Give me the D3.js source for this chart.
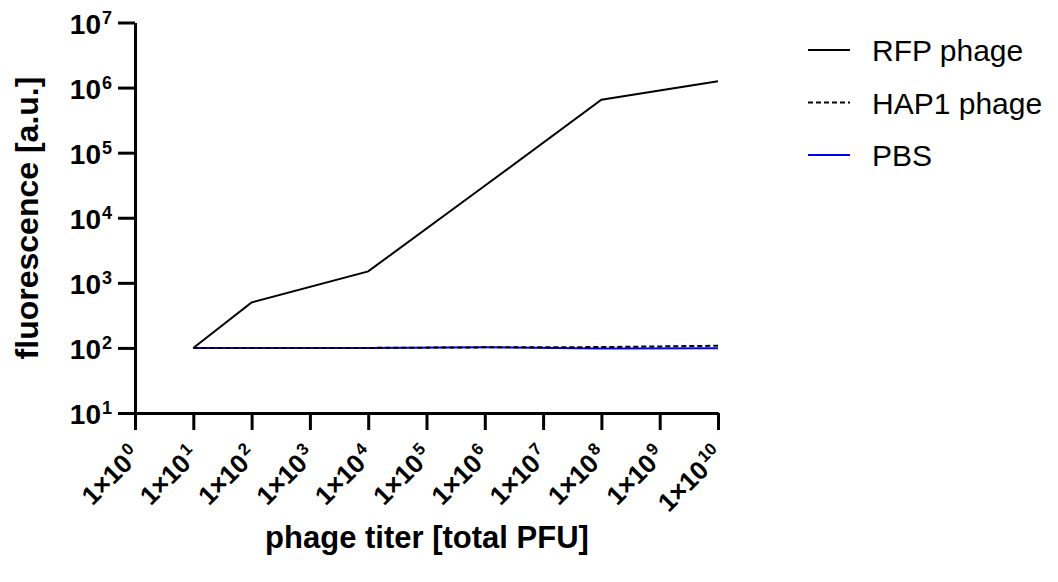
<!DOCTYPE html>
<html><head><meta charset="utf-8">
<script src="https://cdn.jsdelivr.net/npm/d3@7"></script>
<style>
body{margin:0;background:#fff;}
svg{font-family:Arial,"Liberation Sans",sans-serif;}
</style></head>
<body><svg id="c" width="1058" height="582"></svg>
<script>
const xValues = [1e1, 1e2, 1e4, 1e6, 1e8, 1e10];
const rfp = [100, 500, 1500, 31000, 650000, 1250000];
const hap1 = [100, 100, 100, 102, 103, 108];
const pbs = [100, 100, 100, 102, 98, 99];
const xTickExps = [0,1,2,3,4,5,6,7,8,9,10];
const yTickExps = [1,2,3,4,5,6,7];
const seriesNames = ["RFP phage", "HAP1 phage", "PBS"];
const seriesColors = ["#000", "#000", "#0000ee"];
const seriesDash = [null, "5,3", null];

const svg = d3.select("#c");
const x = d3.scaleLog().domain([1e0, 1e10]).range([135, 718]);
const y = d3.scaleLog().domain([1e1, 1e7]).range([413, 22.5]);

// axes
const yAxis = d3.axisLeft(y).tickValues(yTickExps.map(e => Math.pow(10, e))).tickFormat("").tickSize(17).tickSizeOuter(0);
const gy = svg.append("g").attr("transform", "translate(135,0)").call(yAxis);
gy.select(".domain").attr("stroke", "#000").attr("stroke-width", 3);
gy.selectAll(".tick line").attr("stroke", "#000").attr("stroke-width", 3);

const xAxis = d3.axisBottom(x).tickValues(xTickExps.map(e => Math.pow(10, e))).tickFormat("").tickSize(17).tickSizeOuter(0);
const gx = svg.append("g").attr("transform", "translate(0,413)").call(xAxis);
gx.select(".domain").attr("stroke", "#000").attr("stroke-width", 3);
gx.selectAll(".tick line").attr("stroke", "#000").attr("stroke-width", 3);

// y tick labels
yTickExps.forEach(e => {
  const t = svg.append("text").attr("x", 112).attr("y", y(Math.pow(10, e)) + 11)
    .attr("text-anchor", "end").attr("font-weight", "bold").attr("font-size", 28).attr("fill", "#000");
  t.append("tspan").text("10");
  t.append("tspan").attr("dx", 1).attr("dy", -10).attr("font-size", 18).text(String(e));
});

// x tick labels
xTickExps.forEach(e => {
  const px = x(Math.pow(10, e)) + 7;
  const py = 457;
  const t = svg.append("text").attr("transform", `translate(${px},${py}) rotate(-45)`)
    .attr("text-anchor", "end").attr("font-weight", "bold").attr("font-size", 26).attr("fill", "#000");
  t.append("tspan").text("1×10");
  t.append("tspan").attr("dx", 2).attr("dy", -10).attr("font-size", 17).text(String(e));
});

// axis titles
svg.append("text").attr("transform", "translate(38,218) rotate(-90)").attr("text-anchor", "middle")
  .attr("font-weight", "bold").attr("font-size", 32).text("fluorescence [a.u.]");
svg.append("text").attr("x", 427).attr("y", 548).attr("text-anchor", "middle")
  .attr("font-weight", "bold").attr("font-size", 31).text("phage titer [total PFU]");

// lines
const line = d3.line().x(d => x(d[0])).y(d => y(d[1]));
const allSeries = [rfp, hap1, pbs];
[2, 1, 0].forEach(i => {
  svg.append("path").datum(xValues.map((v, j) => [v, allSeries[i][j]]))
    .attr("d", line).attr("fill", "none").attr("stroke", seriesColors[i])
    .attr("stroke-width", 2).attr("stroke-dasharray", seriesDash[i]);
});

// legend
seriesNames.forEach((n, i) => {
  const ly = 50 + i * 52.5;
  svg.append("line").attr("x1", 808).attr("x2", 850).attr("y1", ly).attr("y2", ly)
    .attr("stroke", seriesColors[i]).attr("stroke-width", 2).attr("stroke-dasharray", seriesDash[i]);
  svg.append("text").attr("x", 872).attr("y", ly + 11).attr("font-size", 30).attr("fill", "#000").text(n);
});
</script></body></html>
